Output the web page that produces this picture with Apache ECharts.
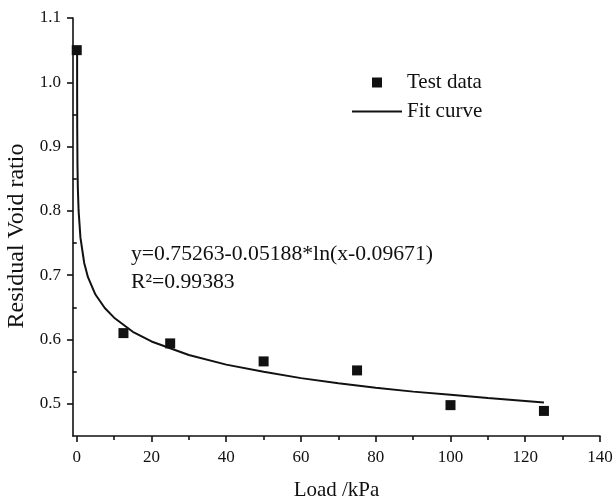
<!DOCTYPE html>
<html>
<head>
<meta charset="utf-8">
<script src="https://cdn.jsdelivr.net/npm/echarts@6/dist/echarts.min.js"></script>
<style>
html,body{margin:0;padding:0;background:#fff;}
#chart{width:614px;height:499px;}
</style>
</head>
<body>
<div id="chart"></div>
<script>
// Test data (Load kPa, residual void ratio)
var loads = [0, 12.5, 25, 50, 75, 100, 125];
var voidRatio = [1.05, 0.61, 0.594, 0.566, 0.552, 0.498, 0.489];
// Fit curve points
var fitX = [0.1, 0.11, 0.13, 0.2, 0.3, 0.5, 1, 2, 3, 5, 7.5, 10, 15, 20, 30, 40, 50, 60, 70, 80, 90, 100, 110, 125];
var fitY = [1.049, 0.977, 0.929, 0.870, 0.835, 0.800, 0.758, 0.719, 0.697, 0.670, 0.649, 0.634, 0.612, 0.597, 0.576, 0.561, 0.550, 0.540, 0.532, 0.525, 0.519, 0.514, 0.509, 0.502];
// Tick values
var xMajorTicks = [0, 20, 40, 60, 80, 100, 120, 140];
var xMinorTicks = [10, 30, 50, 70, 90, 110, 130];
var yMajorTicks = [0.5, 0.6, 0.7, 0.8, 0.9, 1.0, 1.1];
var yMinorTicks = [0.55, 0.65, 0.75, 0.85, 0.95, 1.05];

var FONT = '"Liberation Serif", "Times New Roman", serif';
var INK = '#111111';

var chart = echarts.init(document.getElementById('chart'), null, {renderer: 'canvas'});
function pairs(xs, ys){ return xs.map(function(x,i){ return [x, ys[i]]; }); }

var lineStyle = {color: INK, width: 1.6};
var option = {
  backgroundColor: '#fff',
  animation: false,
  grid: {left: 73, right: 14, top: 18, bottom: 63, containLabel: false, outerBoundsMode: 'none'},
  legend: {
    orient: 'vertical', left: 347, top: 67, padding: 5,
    itemWidth: 50, itemHeight: 10, itemGap: 8,
    symbolKeepAspect: true,
    textStyle: {fontFamily: FONT, fontSize: 21, color: INK},
    data: [
      {name: 'Test data', icon: 'path://M0,0H10V10H0Z'},
      {name: 'Fit curve', icon: 'path://M0,0H50V2H0Z'}
    ]
  },
  xAxis: [{
    type: 'value', min: -1, max: 140,
    name: 'Load /kPa', nameLocation: 'middle', nameGap: 44,
    nameTextStyle: {fontFamily: FONT, fontSize: 21, color: INK},
    axisLine: {show: true, onZero: false, lineStyle: lineStyle},
    axisTick: {show: true, length: 6, customValues: xMajorTicks, lineStyle: lineStyle},
    axisLabel: {customValues: xMajorTicks, fontFamily: FONT, fontSize: 17, color: INK, margin: 13},
    splitLine: {show: false}
  }, {
    type: 'value', min: -1, max: 140, position: 'bottom',
    axisLine: {show: false},
    axisTick: {show: true, length: 4, customValues: xMinorTicks, lineStyle: lineStyle},
    axisLabel: {show: false},
    splitLine: {show: false}
  }],
  yAxis: [{
    type: 'value', min: 0.45, max: 1.1,
    name: 'Residual Void ratio', nameLocation: 'middle', nameGap: 42,
    nameTextStyle: {fontFamily: FONT, fontSize: 24, color: INK, padding: [0, 18, 0, 0]},
    axisLine: {show: true, onZero: false, lineStyle: lineStyle},
    axisTick: {show: true, length: 6, customValues: yMajorTicks, lineStyle: lineStyle},
    axisLabel: {customValues: yMajorTicks, fontFamily: FONT, fontSize: 17, color: INK, margin: 12,
      formatter: function(v){ return v.toFixed(1); }},
    splitLine: {show: false}
  }, {
    type: 'value', min: 0.45, max: 1.1, position: 'left',
    axisLine: {show: false},
    axisTick: {show: true, length: 4, customValues: yMinorTicks, lineStyle: lineStyle},
    axisLabel: {show: false},
    splitLine: {show: false}
  }],
  series: [{
    name: 'Test data', type: 'scatter', xAxisIndex: 0, yAxisIndex: 0,
    symbol: 'rect', symbolSize: 10,
    itemStyle: {color: INK, opacity: 1},
    data: pairs(loads, voidRatio), z: 3
  }, {
    name: 'Fit curve', type: 'line', xAxisIndex: 0, yAxisIndex: 0,
    symbol: 'none', showSymbol: false, smooth: false,
    lineStyle: {color: INK, width: 2},
    itemStyle: {color: INK},
    data: pairs(fitX, fitY), z: 2
  }],
  graphic: [{
    type: 'text', left: 131, top: 243,
    style: {text: 'y=0.75263-0.05188*ln(x-0.09671)', font: '21.7px ' + FONT, fill: INK}
  }, {
    type: 'text', left: 131, top: 271,
    style: {text: 'R\u00b2=0.99383', font: '21.7px ' + FONT, fill: INK}
  }]
};
chart.setOption(option);
</script>
</body>
</html>
